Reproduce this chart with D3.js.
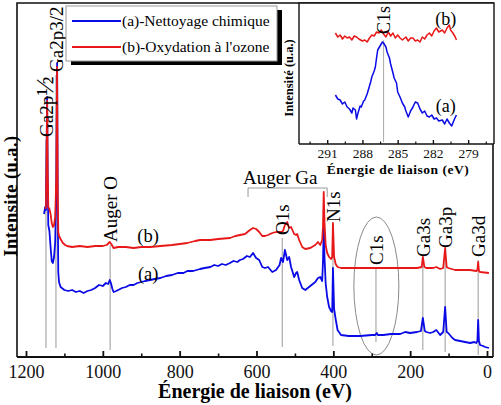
<!DOCTYPE html>
<html>
<head>
<meta charset="utf-8">
<script src="https://cdn.jsdelivr.net/npm/d3@7"></script>
<style>
  body { margin: 0; background: #fff; }
  svg { display: block; }
</style>
</head>
<body>
<div id="chart"></div>
<script>
// spectrum (a) : nettoyage chimique  [energie eV, intensite u.a.]
var spectrumA = [[1153,143],[1150,150],[1148,147],[1146.5,200],[1145,260],[1143.5,180],[1142,132],[1139,126],[1136,110],[1133,96],[1130,94],[1127,100],[1124,115],[1121,170],[1119,294],[1117.5,160],[1116,85],[1114,75],[1110,70],[1100,67],[1090,66],[1080,67],[1070,65],[1060,66],[1050,64],[1040,66],[1030,67],[1020,69],[1010,72],[1000,71],[992,74],[986,73],[982,77],[979,74],[975,68],[972,65],[965,66],[960,67],[950,69],[940,70],[930,72],[920,72],[910,74],[900,75],[890,76],[877,77],[865,78],[850,79],[835,81],[820,82],[805,84],[790,84],[780,86],[765,86],[747,88],[735,89],[720,90],[710,92],[700,91],[690,93],[680,92],[669,94],[660,96],[650,95],[643,97],[635,98],[625,101],[617,100],[609,104],[601,99],[593,97],[585,90],[578,89],[570,90],[559,85],[549,87],[540,92],[536,99],[531,95],[526,107],[520,97],[515,100],[510,90],[502,80],[497,84],[494,85],[489,77],[481,69],[473,67],[460,71],[447,75],[440,79],[434,80],[429,76],[427,95],[425,130],[423,100],[420,74],[416,60],[411,50],[406,46],[403,45],[401,89],[398,48],[394,38],[389,27],[380,22],[360,21],[330,21],[300,22],[291,22],[287,24],[284,22],[270,22],[250,23],[226,23],[213,25],[200,24],[182,25],[172,26],[167,39],[162,26],[158,25],[148,24],[140,25],[132,27],[122,22],[114,25],[109,50],[105,25],[101,24],[90,19],[83,17],[70,16],[57,15],[44,14],[33,15],[28,14],[25,16],[23,37],[21,16],[18,12],[10,11],[5,10],[-5,9]];

// spectrum (b) : oxydation a l'ozone
var spectrumB = [[1150,148],[1148,150],[1146.5,200],[1145,256],[1143.5,185],[1142,150],[1139,148],[1136,143],[1133,134],[1130,130],[1127,132],[1124,140],[1121,180],[1119,290],[1117.5,170],[1116,125],[1114,121],[1110,118],[1104,114],[1098,112],[1093,111],[1080,110],[1060,111],[1040,110],[1020,111],[1000,111],[990,112],[982,115],[978,113],[972,109],[960,110],[940,110],[920,109],[900,110],[877,110],[850,111],[820,112],[800,113],[780,114],[760,116],[747,117],[720,117],[700,118],[669,119],[655,121],[643,122],[630,123],[617,127],[609,129],[601,128],[593,125],[585,121],[578,121],[570,122],[559,124],[549,125],[540,125],[536,125],[531,126],[526,132],[520,135],[515,129],[510,130],[502,123],[497,122],[494,123],[489,117],[481,110],[473,108],[460,109],[447,112],[440,115],[434,112],[429,117],[427,130],[425,165],[423,135],[420,112],[416,104],[411,100],[406,98],[403,100],[401,134],[398,100],[394,93],[389,90],[380,89],[330,89],[291,89],[226,89],[182,89],[170,90],[167,100],[163,90],[158,89],[140,89],[132,90],[122,88],[114,89],[109,109],[105,90],[101,89],[83,87],[44,87],[28,86],[25,87],[23,95],[21,86],[18,85],[-5,84]];

// inset, region C1s
var insetA = [[290.3,49],[290.1,45],[289.9,44],[289.7,40],[289.5,42],[289.3,37],[289.1,35],[288.9,31],[288.8,36],[288.6,34],[288.5,25],[288.4,30],[288.2,38],[288.1,37],[287.9,43],[287.8,44],[287.6,50],[287.5,54],[287.3,62],[287.2,67],[287.0,73],[286.9,77],[286.8,86],[286.7,94],[286.5,98],[286.3,102],[286.2,101],[286.0,97],[285.9,92],[285.7,86],[285.6,80],[285.4,71],[285.3,66],[285.1,61],[285.0,52],[284.8,47],[284.6,41],[284.4,37],[284.3,33],[284.1,27],[283.9,33],[283.7,37],[283.5,42],[283.3,41],[283.1,35],[282.9,31],[282.7,33],[282.5,28],[282.3,27],[282.1,29],[281.9,25],[281.7,26],[281.5,23],[281.2,24],[281.0,20],[280.8,25],[280.6,21],[280.4,18],[280.2,24],[280.0,29]];
var insetB = [[290.3,111],[290.1,107],[289.9,109],[289.7,105],[289.5,108],[289.3,106],[289.1,107],[288.9,104],[288.7,108],[288.5,107],[288.3,105],[288.0,103],[287.8,104],[287.6,102],[287.4,106],[287.2,109],[287.0,108],[286.8,112],[286.6,111],[286.4,114],[286.2,110],[286.0,107],[285.8,112],[285.6,108],[285.4,111],[285.2,106],[285.0,109],[284.8,106],[284.6,104],[284.3,107],[284.1,103],[283.9,106],[283.7,106],[283.5,103],[283.3,104],[283.1,102],[282.9,107],[282.7,105],[282.5,109],[282.3,111],[282.1,108],[281.9,113],[281.7,116],[281.5,112],[281.2,114],[281.0,111],[280.8,116],[280.6,119],[280.5,114],[280.3,111],[280.1,107],[280.0,104]];

var xTicks = [1200, 1000, 800, 600, 400, 200, 0];
var xMinorTicks = [1100, 900, 700, 500, 300, 100];
var insetTicks = [291, 288, 285, 282, 279];
var insetMinorTicks = [292.5, 289.5, 286.5, 283.5, 280.5, 277.5];

// peaks: energie, label, bas du label et fin du trait (u.a.)
var peaks = [
  {e: 1148, label: "Ga2p", frac: "\u00bd", top: 220, end: 9},
  {e: 1122, label: "Ga2p3/2", top: 285, end: 9},
  {e: 981, label: "Auger O", top: 115, end: 7},
  {e: 533, label: "O1s", top: 122, end: 10},
  {e: 401, label: "N1s", top: 135, end: 11},
  {e: 289, label: "C1s", top: 92, end: 15},
  {e: 167, label: "Ga3s", top: 100, end: 7},
  {e: 109, label: "Ga3p", top: 109, end: 5},
  {e: 23, label: "Ga3d", top: 100, end: 2}
];
var legendLabels = ["(a)-Nettoyage chimique", "(b)-Oxydation \u00e0 l'ozone"];
var colors = ["#0a0ae6", "#e81818"];

var serif = "'Liberation Serif', 'DejaVu Serif', serif";
var W = 501, H = 405;

var svg = d3.select("#chart").append("svg")
  .attr("width", W).attr("height", H)
  .style("background", "#fff");

var x = d3.scaleLinear().domain([1223.4, -15.6]).range([17, 493]);
var y = d3.scaleLinear().domain([0, 354]).range([357, 3]);

var line = d3.line().x(d => x(d[0])).y(d => y(d[1]));

// annotation lines (behind the curves)
var ann = svg.append("g");
peaks.forEach(function(p) {
  ann.append("line")
    .attr("x1", x(p.e)).attr("x2", x(p.e))
    .attr("y1", y(p.top) + 3).attr("y2", y(p.end))
    .attr("stroke", "#999").attr("stroke-width", 1);
});

// ellipse round C1s
svg.append("ellipse")
  .attr("cx", x(288)).attr("cy", y(71))
  .attr("rx", 22.5).attr("ry", 69)
  .attr("fill", "none").attr("stroke", "#8a8a8a").attr("stroke-width", 1);

// curves
svg.append("path").datum(spectrumA)
  .attr("d", line).attr("fill", "none")
  .attr("stroke", colors[0]).attr("stroke-width", 1.8).attr("stroke-linejoin", "round");
svg.append("path").datum(spectrumB)
  .attr("d", line).attr("fill", "none")
  .attr("stroke", colors[1]).attr("stroke-width", 1.8).attr("stroke-linejoin", "round");

// peak labels
peaks.forEach(function(p) {
  var t = svg.append("text")
    .attr("transform", `translate(${x(p.e)}, ${y(p.top)}) rotate(-90)`)
    .attr("dy", "0.35em")
    .attr("font-family", serif).attr("font-size", 19)
    .text(p.label);
  if (p.frac) t.append("tspan").attr("font-size", 26).text(p.frac);
});

// Auger Ga bracket
svg.append("path")
  .attr("d", `M${x(622)},${y(160)}V${y(169)}H${x(416)}V${y(160)}`)
  .attr("fill", "none").attr("stroke", "#999").attr("stroke-width", 1);
svg.append("text")
  .attr("x", x(635)).attr("y", y(173))
  .attr("font-family", serif).attr("font-size", 19)
  .text("Auger Ga");

// series labels
svg.append("text").attr("x", x(882)).attr("y", y(115))
  .attr("text-anchor", "middle").attr("font-family", serif).attr("font-size", 18.5)
  .text("(b)");
svg.append("text").attr("x", x(882)).attr("y", y(77))
  .attr("text-anchor", "middle").attr("font-family", serif).attr("font-size", 18.5)
  .text("(a)");

// frame
svg.append("path")
  .attr("d", "M17,357V3H493V357")
  .attr("fill", "none").attr("stroke", "#111").attr("stroke-width", 1.6);

// x axis
var gx = svg.append("g").attr("transform", "translate(0,357)")
  .call(d3.axisBottom(x).tickValues(xTicks).tickSize(-6).tickSizeOuter(0).tickPadding(8).tickFormat(d3.format("d")));
gx.select(".domain").attr("d", "M17,0H493").attr("stroke", "#111").attr("stroke-width", 2.2);
gx.selectAll(".tick line").attr("stroke", "#111").attr("stroke-width", 1.8);
gx.selectAll("text").attr("font-family", serif).attr("font-size", 18).attr("fill", "#111");
var gxm = svg.append("g").attr("transform", "translate(0,357)")
  .call(d3.axisBottom(x).tickValues(xMinorTicks).tickSize(-3.5).tickFormat(""));
gxm.select(".domain").remove();
gxm.selectAll(".tick line").attr("stroke", "#111").attr("stroke-width", 1.6);

svg.append("text")
  .attr("x", 255).attr("y", 398)
  .attr("text-anchor", "middle").attr("font-family", serif)
  .attr("font-size", 20).attr("font-weight", "bold")
  .text("\u00c9nergie de liaison (eV)");
svg.append("text")
  .attr("transform", "translate(17,196) rotate(-90)")
  .attr("text-anchor", "middle").attr("font-family", serif)
  .attr("font-size", 18.5).attr("font-weight", "bold")
  .attr("letter-spacing", 0.4)
  .text("Intensite (u.a.)");

// legend
var lg = svg.append("g");
lg.append("rect").attr("x", 71).attr("y", 10).attr("width", 211).attr("height", 55).attr("fill", "#000");
lg.append("rect").attr("x", 66).attr("y", 6).attr("width", 211).attr("height", 55)
  .attr("fill", "#fff").attr("stroke", "#9a9a9a").attr("stroke-width", 1);
legendLabels.forEach(function(l, i) {
  var ly = 21 + i * 26;
  lg.append("line").attr("x1", 72).attr("x2", 121).attr("y1", ly).attr("y2", ly)
    .attr("stroke", colors[i]).attr("stroke-width", 2);
  lg.append("text").attr("x", 122).attr("y", ly).attr("dy", "0.33em")
    .attr("font-family", serif).attr("font-size", 15.5).text(l);
});

// inset
var xi = d3.scaleLinear().domain([293.4, 276.8]).range([299, 494]);
var yi = d3.scaleLinear().domain([0, 141]).range([144, 3]);
var linei = d3.line().x(d => xi(d[0])).y(d => yi(d[1]));

var ins = svg.append("g");
ins.append("rect").attr("x", 299).attr("y", 3).attr("width", 195).attr("height", 141)
  .attr("fill", "#fff");
ins.append("line").attr("x1", xi(286.2)).attr("x2", xi(286.2))
  .attr("y1", yi(104)).attr("y2", yi(2))
  .attr("stroke", "#aaa").attr("stroke-width", 1);
ins.append("path").datum(insetA).attr("d", linei).attr("fill", "none")
  .attr("stroke", colors[0]).attr("stroke-width", 1.5).attr("stroke-linejoin", "round");
ins.append("path").datum(insetB).attr("d", linei).attr("fill", "none")
  .attr("stroke", colors[1]).attr("stroke-width", 1.5).attr("stroke-linejoin", "round");
ins.append("text")
  .attr("transform", `translate(${xi(286.2)}, ${yi(110)}) rotate(-90)`)
  .attr("dy", "0.35em").attr("font-family", serif).attr("font-size", 18)
  .text("C1s");
ins.append("text").attr("x", xi(280.9)).attr("y", yi(119))
  .attr("text-anchor", "middle").attr("font-family", serif).attr("font-size", 18)
  .text("(b)");
ins.append("text").attr("x", xi(280.9)).attr("y", yi(32))
  .attr("text-anchor", "middle").attr("font-family", serif).attr("font-size", 18)
  .text("(a)");
ins.append("path").attr("d", "M299,144V3H494V144")
  .attr("fill", "none").attr("stroke", "#111").attr("stroke-width", 1.4);

var gi = ins.append("g").attr("transform", "translate(0,144)")
  .call(d3.axisBottom(xi).tickValues(insetTicks).tickSize(-4).tickSizeOuter(0).tickPadding(4).tickFormat(d3.format("d")));
gi.select(".domain").attr("d", "M299,0H494").attr("stroke", "#111").attr("stroke-width", 1.6);
gi.selectAll(".tick line").attr("stroke", "#111").attr("stroke-width", 1.4);
gi.selectAll("text").attr("font-family", serif).attr("font-size", 13.5).attr("fill", "#111");
var gim = ins.append("g").attr("transform", "translate(0,144)")
  .call(d3.axisBottom(xi).tickValues(insetMinorTicks).tickSize(-2.5).tickFormat(""));
gim.select(".domain").remove();
gim.selectAll(".tick line").attr("stroke", "#111").attr("stroke-width", 1.2);

ins.append("text")
  .attr("x", 398).attr("y", 174)
  .attr("text-anchor", "middle").attr("font-family", serif)
  .attr("font-size", 13.5).attr("font-weight", "bold")
  .attr("letter-spacing", 0.5)
  .text("\u00c9nergie de liaison (eV)");
ins.append("text")
  .attr("transform", "translate(293,78) rotate(-90)")
  .attr("text-anchor", "middle").attr("font-family", serif)
  .attr("font-size", 12.5).attr("font-weight", "bold")
  .text("Intensit\u00e9 (u.a.)");
</script>
</body>
</html>
